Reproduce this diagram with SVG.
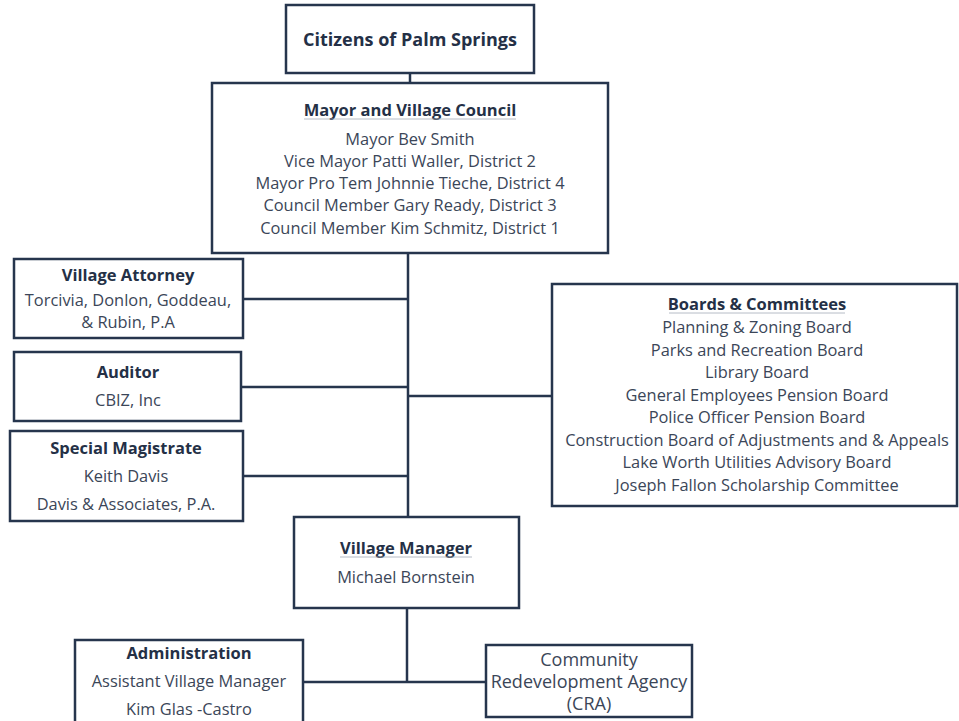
<svg xmlns="http://www.w3.org/2000/svg" width="959" height="721" viewBox="0 0 959 721">
<style>
.box{fill:#ffffff;stroke:#26354d;stroke-width:2.5}
.ln{fill:none;stroke:#26354d;stroke-width:2.5}
.ul{stroke:#a3abb8;stroke-width:0.8}
text{font-family:"Open Sans","Liberation Sans",sans-serif;text-anchor:middle;fill:#3b4658}
.h{font-weight:bold;fill:#243046;font-size:16.5px}
.t{font-size:16.4px}
</style>
<rect width="959" height="721" fill="#ffffff"/>
<g id="connectors">
<line class="ln" x1="410" y1="73" x2="410" y2="83"/>
<line class="ln" x1="408" y1="253" x2="408" y2="517"/>
<line class="ln" x1="243" y1="299" x2="408" y2="299"/>
<line class="ln" x1="241" y1="387" x2="408" y2="387"/>
<line class="ln" x1="243" y1="476" x2="408" y2="476"/>
<line class="ln" x1="408" y1="396" x2="552" y2="396"/>
<line class="ln" x1="407" y1="608" x2="407" y2="682"/>
<line class="ln" x1="303" y1="682" x2="486" y2="682"/>
</g>
<g id="citizens">
<rect class="box" x="286" y="5" width="248" height="68"/>
<text x="410" y="46" style="font-weight:bold;fill:#243046;font-size:18px">Citizens of Palm Springs</text>
</g>
<g id="council">
<rect class="box" x="212" y="83" width="396" height="170"/>
<text class="h" x="410" y="116">Mayor and Village Council</text>
<line class="ul" x1="304" y1="119" x2="516" y2="119"/>
<text class="t" x="410" y="145">Mayor Bev Smith</text>
<text class="t" x="410" y="167">Vice Mayor Patti Waller, District 2</text>
<text class="t" x="410" y="189">Mayor Pro Tem Johnnie Tieche, District 4</text>
<text class="t" x="410" y="211">Council Member Gary Ready, District 3</text>
<text class="t" x="410" y="234">Council Member Kim Schmitz, District 1</text>
</g>
<g id="attorney">
<rect class="box" x="14" y="259" width="229" height="79"/>
<text class="h" x="128" y="281">Village Attorney</text>
<text class="t" x="128" y="306">Torcivia, Donlon, Goddeau,</text>
<text class="t" x="128" y="328">&amp; Rubin, P.A</text>
</g>
<g id="auditor">
<rect class="box" x="14" y="352" width="227" height="69"/>
<text class="h" x="128" y="378">Auditor</text>
<text class="t" x="128" y="406">CBIZ, Inc</text>
</g>
<g id="magistrate">
<rect class="box" x="10" y="431" width="233" height="90"/>
<text class="h" x="126" y="454">Special Magistrate</text>
<text class="t" x="126" y="482">Keith Davis</text>
<text class="t" x="126" y="510">Davis &amp; Associates, P.A.</text>
</g>
<g id="boards">
<rect class="box" x="552" y="284" width="405" height="222"/>
<text class="h" x="757" y="310">Boards &amp; Committees</text>
<line class="ul" x1="669" y1="313" x2="845" y2="313"/>
<text class="t" x="757" y="333">Planning &amp; Zoning Board</text>
<text class="t" x="757" y="356">Parks and Recreation Board</text>
<text class="t" x="757" y="378">Library Board</text>
<text class="t" x="757" y="401">General Employees Pension Board</text>
<text class="t" x="757" y="423">Police Officer Pension Board</text>
<text class="t" x="757" y="446">Construction Board of Adjustments and &amp; Appeals</text>
<text class="t" x="757" y="468">Lake Worth Utilities Advisory Board</text>
<text class="t" x="757" y="491">Joseph Fallon Scholarship Committee</text>
</g>
<g id="manager">
<rect class="box" x="294" y="517" width="225" height="91"/>
<text class="h" x="406" y="554">Village Manager</text>
<line class="ul" x1="340" y1="557" x2="472" y2="557"/>
<text class="t" x="406" y="583">Michael Bornstein</text>
</g>
<g id="administration">
<rect class="box" x="75" y="640" width="228" height="90"/>
<text class="h" x="189" y="659">Administration</text>
<text class="t" x="189" y="687">Assistant Village Manager</text>
<text class="t" x="189" y="715">Kim Glas -Castro</text>
</g>
<g id="cra">
<rect class="box" x="486" y="645" width="206" height="72"/>
<text class="t" x="589" y="666" style="font-size:18px">Community</text>
<text class="t" x="589" y="688" style="font-size:18px">Redevelopment Agency</text>
<text class="t" x="589" y="710" style="font-size:18px">(CRA)</text>
</g>
</svg>
